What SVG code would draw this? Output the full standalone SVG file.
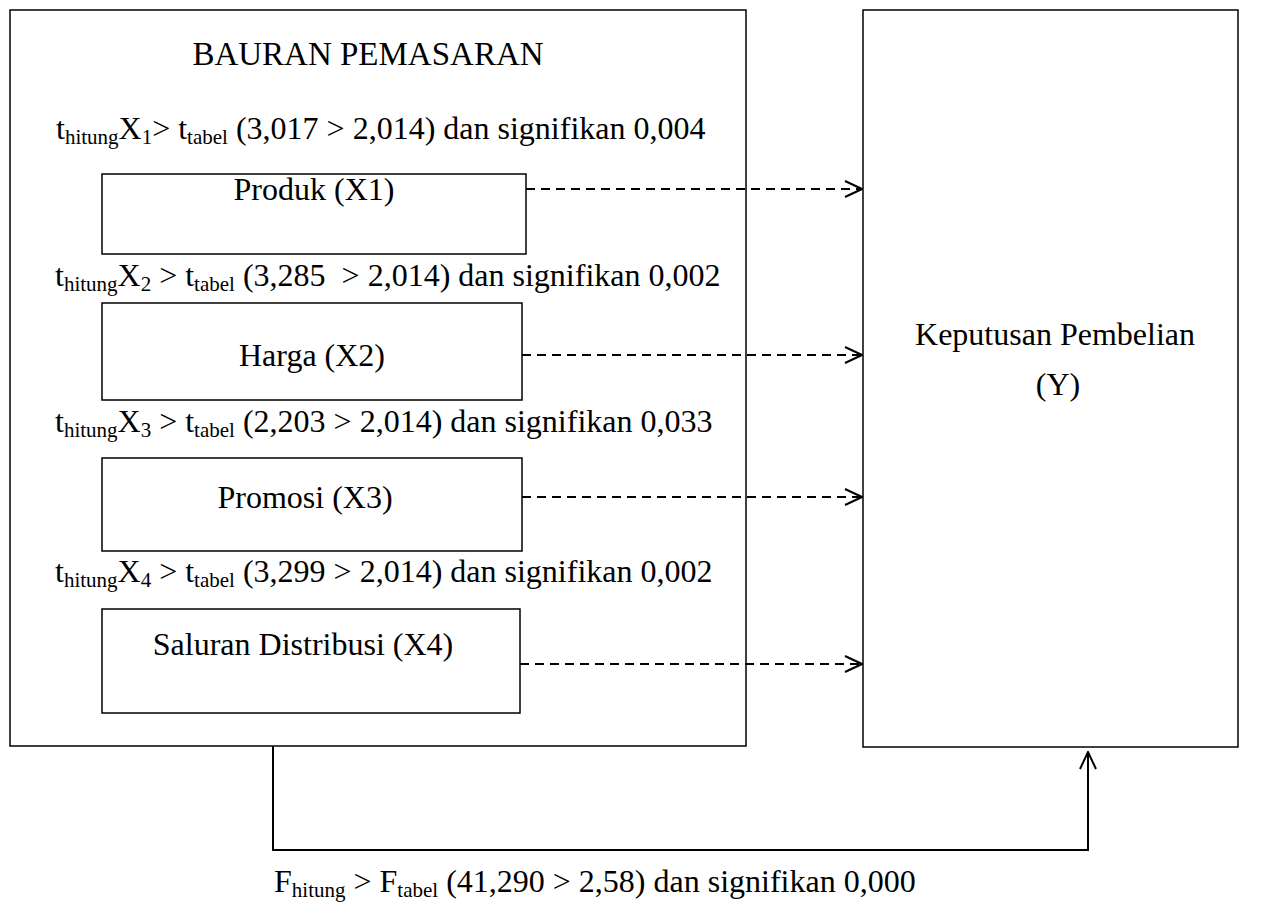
<svg xmlns="http://www.w3.org/2000/svg" width="1264" height="920" viewBox="0 0 1264 920">
<style>
text{font-family:"Liberation Serif","Times New Roman",serif;font-size:32px;fill:#000}
.sub{font-size:21px}
.box{fill:none;stroke:#000;stroke-width:1.5}
.dash{fill:none;stroke:#000;stroke-width:2;stroke-dasharray:9,6}
.line{fill:none;stroke:#000;stroke-width:2}
</style>
<defs>
<marker id="open" viewBox="0 0 20 20" refX="19" refY="10" markerWidth="20" markerHeight="20" markerUnits="userSpaceOnUse" orient="auto">
<path d="M2,2 L19,10 L2,18" fill="none" stroke="#000" stroke-width="2"/>
</marker>
</defs>
<rect width="1264" height="920" fill="#fff"/>
<g id="bauran">
<rect class="box" x="10" y="10" width="736" height="736"/>
<text x="368" y="65" text-anchor="middle" style="font-size:33px">BAURAN PEMASARAN</text>
</g>
<g id="label1"><text x="56" y="139">t<tspan class="sub" dy="5">hitung</tspan><tspan dy="-5">X</tspan><tspan class="sub" dy="5">1</tspan><tspan dy="-5">&gt; t</tspan><tspan class="sub" dy="5">tabel</tspan><tspan dy="-5"> (3,017 &gt; 2,014) dan signifikan 0,004</tspan></text></g>
<g id="produk">
<rect class="box" x="102" y="174" width="424" height="80"/>
<text x="314" y="200" text-anchor="middle">Produk (X1)</text>
</g>
<g id="label2"><text x="55" y="286">t<tspan class="sub" dy="5">hitung</tspan><tspan dy="-5">X</tspan><tspan class="sub" dy="5">2</tspan><tspan dy="-5"> &gt; t</tspan><tspan class="sub" dy="5">tabel</tspan><tspan dy="-5"> (3,285&#160; &gt; 2,014) dan signifikan 0,002</tspan></text></g>
<g id="harga">
<rect class="box" x="102" y="303" width="420" height="97"/>
<text x="312" y="366" text-anchor="middle">Harga (X2)</text>
</g>
<g id="label3"><text x="55" y="432">t<tspan class="sub" dy="5">hitung</tspan><tspan dy="-5">X</tspan><tspan class="sub" dy="5">3</tspan><tspan dy="-5"> &gt; t</tspan><tspan class="sub" dy="5">tabel</tspan><tspan dy="-5"> (2,203 &gt; 2,014) dan signifikan 0,033</tspan></text></g>
<g id="promosi">
<rect class="box" x="102" y="458" width="420" height="93"/>
<text x="305" y="508" text-anchor="middle">Promosi (X3)</text>
</g>
<g id="label4"><text x="55" y="582">t<tspan class="sub" dy="5">hitung</tspan><tspan dy="-5">X</tspan><tspan class="sub" dy="5">4</tspan><tspan dy="-5"> &gt; t</tspan><tspan class="sub" dy="5">tabel</tspan><tspan dy="-5"> (3,299 &gt; 2,014) dan signifikan 0,002</tspan></text></g>
<g id="saluran">
<rect class="box" x="102" y="609" width="418" height="104"/>
<text x="303" y="655" text-anchor="middle">Saluran Distribusi (X4)</text>
</g>
<g id="keputusan">
<rect class="box" x="863" y="10" width="375" height="737"/>
<text x="1055" y="345" text-anchor="middle">Keputusan Pembelian</text>
<text x="1058" y="395" text-anchor="middle">(Y)</text>
</g>
<g id="connectors">
<line class="dash" x1="526" y1="189" x2="862" y2="189" marker-end="url(#open)"/>
<line class="dash" x1="522" y1="355" x2="862" y2="355" marker-end="url(#open)"/>
<line class="dash" x1="522" y1="497" x2="862" y2="497" marker-end="url(#open)"/>
<line class="dash" x1="520" y1="664" x2="862" y2="664" marker-end="url(#open)"/>
<polyline class="line" points="273,746 273,850 1088,850 1088,752" marker-end="url(#open)"/>
</g>
<g id="ftest"><text x="274" y="892">F<tspan class="sub" dy="5">hitung</tspan><tspan dy="-5"> &gt; F</tspan><tspan class="sub" dy="5">tabel</tspan><tspan dy="-5"> (41,290 &gt; 2,58) dan signifikan 0,000</tspan></text></g>
</svg>
